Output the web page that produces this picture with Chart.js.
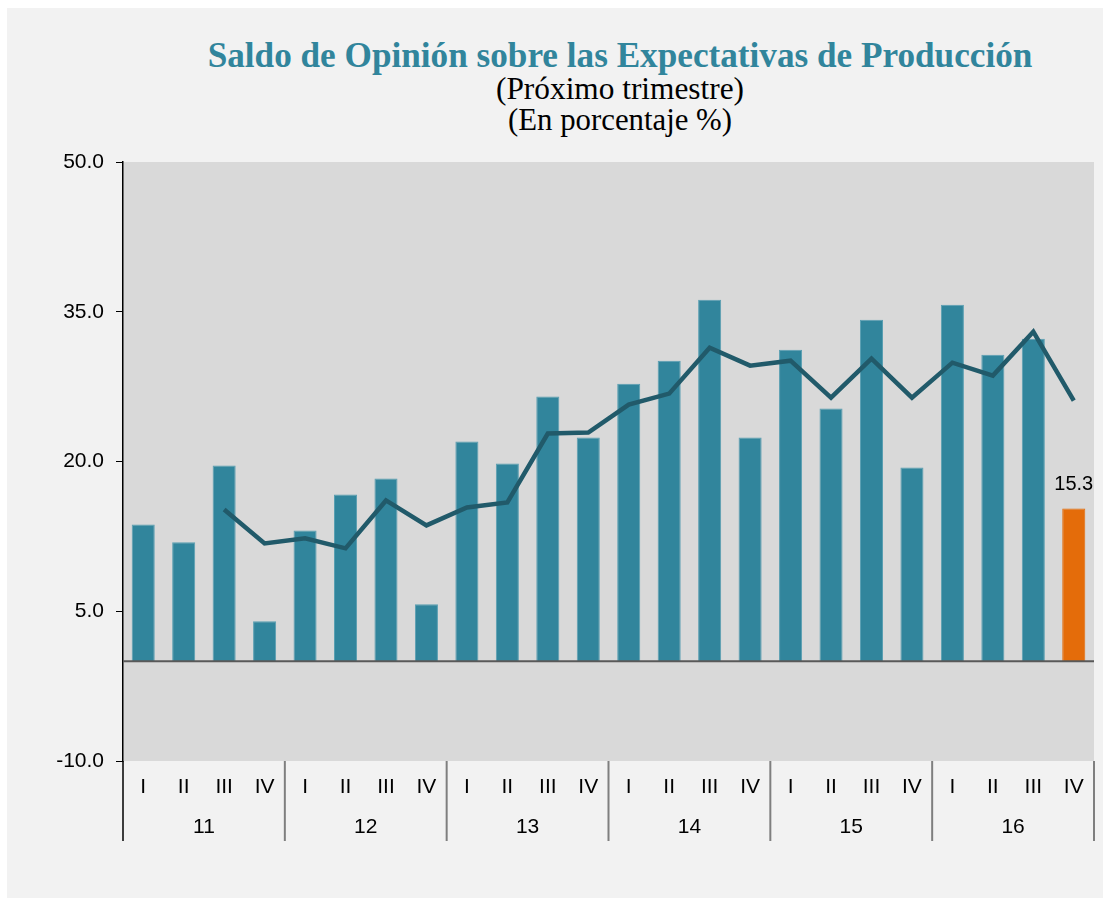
<!DOCTYPE html>
<html>
<head>
<meta charset="utf-8">
<script src="https://cdn.jsdelivr.net/npm/chart.js@4.4.0/dist/chart.umd.min.js"></script>
<style>
  body { margin: 0; background: #ffffff; }
  #wrap { position: relative; width: 1110px; height: 902px; }
  #panel { position: absolute; left: 7px; top: 8px; width: 1096px; height: 890px; background: #f2f2f2; }
  #chart { position: absolute; left: 0; top: 0; }
  .title { position: absolute; left: 0; width: 1240px; text-align: center; white-space: nowrap; font-family: "Liberation Serif", "Times New Roman", serif; }
  #t1 { top: 36px; font-size: 31px; font-weight: bold; color: #31859c; }
  #t2 { top: 71px; font-size: 26px; color: #000; }
  #t3 { top: 103px; font-size: 26px; color: #000; }
</style>
</head>
<body>
<div id="wrap">
  <div id="panel"></div>
  <div class="title" id="t1">Saldo de Opinión sobre las Expectativas de Producción</div>
  <div class="title" id="t2">(Próximo trimestre)</div>
  <div class="title" id="t3">(En porcentaje %)</div>
  <canvas id="chart" width="1110" height="902"></canvas>
</div>
<script>
// Quarters and years on the x axis
const quarters = ['I', 'II', 'III', 'IV'];
const years = ['11', '12', '13', '14', '15', '16'];
const labels = years.flatMap(() => quarters);

// Balance of opinion (bars) and moving average (line)
const saldo = [13.7, 11.9, 19.6, 4.0, 13.1, 16.7, 18.3, 5.7, 22.0, 19.8, 26.5, 22.4,
               27.8, 30.1, 36.2, 22.4, 31.2, 25.3, 34.2, 19.4, 35.7, 30.7, 32.3, 15.3];
const promedio = [null, null, 15.2, 11.8, 12.3, 11.3, 16.1, 13.6, 15.4, 15.9, 22.8, 22.9,
                  25.7, 26.8, 31.4, 29.6, 30.1, 26.4, 30.3, 26.4, 29.9, 28.6, 33.0, 26.1];

const barColors = saldo.map((v, i) => i === saldo.length - 1 ? '#e46c0a' : '#31859c');
const barBorders = saldo.map((v, i) => i === saldo.length - 1 ? '#e46c0a' : '#5a9fb2');

// Fit title lines to the widths seen in the picture
function fitWidth(id, target) {
    const el = document.getElementById(id);
    const span = document.createElement('span');
    span.textContent = el.textContent;
    el.textContent = '';
    el.appendChild(span);
    const size = parseFloat(getComputedStyle(el).fontSize);
    const w = span.getBoundingClientRect().width;
    el.style.fontSize = (size * target / w) + 'px';
}
fitWidth('t1', 825);
fitWidth('t2', 248);
fitWidth('t3', 224);

const sansFont = { family: "'Liberation Sans', Arial, sans-serif", size: 21 };

// Gray plot background
const plotBackground = {
    id: 'plotBackground',
    beforeDraw(chart) {
        const { ctx, chartArea: a } = chart;
        ctx.save();
        ctx.fillStyle = '#d9d9d9';
        ctx.fillRect(a.left, a.top, a.right - a.left, a.bottom - a.top);
        ctx.restore();
    }
};

// Zero line, year groups below the quarters, and the last value label
const extras = {
    id: 'extras',
    afterDatasetsDraw(chart) {
        const { ctx, chartArea: a, scales: { x, y } } = chart;
        ctx.save();
        const y0 = y.getPixelForValue(0);
        ctx.strokeStyle = '#595959';
        ctx.lineWidth = 2;
        ctx.beginPath();
        ctx.moveTo(a.left, y0);
        ctx.lineTo(a.right, y0);
        ctx.stroke();

        const meta = chart.getDatasetMeta(1);
        const last = meta.data[saldo.length - 1];
        ctx.fillStyle = '#000';
        ctx.font = "20px 'Liberation Sans', Arial, sans-serif";
        ctx.textAlign = 'center';
        ctx.textBaseline = 'middle';
        ctx.fillText(saldo[saldo.length - 1].toFixed(1), last.x, last.y - 24);
        ctx.restore();
    },
    afterDraw(chart) {
        const { ctx, chartArea: a, scales: { x } } = chart;
        const half = (x.getPixelForValue(1) - x.getPixelForValue(0)) / 2;
        const bottom = a.bottom + 80;
        ctx.save();
        ctx.strokeStyle = '#000';
        ctx.lineWidth = 1.5;
        ctx.beginPath();
        ctx.moveTo(a.left, a.bottom);
        ctx.lineTo(a.left, bottom);
        ctx.stroke();

        ctx.font = "21px 'Liberation Sans', Arial, sans-serif";
        ctx.fillStyle = '#000';
        ctx.textAlign = 'center';
        ctx.textBaseline = 'middle';
        ctx.strokeStyle = '#7f7f7f';
        ctx.lineWidth = 2;
        years.forEach((yr, k) => {
            const xl = x.getPixelForValue(k * 4) - half;
            const xr = x.getPixelForValue(k * 4 + 3) + half;
            if (k > 0) {
                ctx.beginPath();
                ctx.moveTo(xl, a.bottom);
                ctx.lineTo(xl, bottom);
                ctx.stroke();
            }
            if (k === years.length - 1) {
                ctx.beginPath();
                ctx.moveTo(xr, a.bottom);
                ctx.lineTo(xr, bottom);
                ctx.stroke();
            }
            ctx.fillText(yr, (xl + xr) / 2, a.bottom + 66);
        });
        ctx.restore();
    }
};

new Chart(document.getElementById('chart').getContext('2d'), {
    type: 'bar',
    data: {
        labels: labels,
        datasets: [{
            type: 'line',
            data: promedio,
            borderColor: '#215a6a',
            borderWidth: 4.5,
            pointRadius: 0,
            tension: 0,
            fill: false,
            order: 0
        }, {
            type: 'bar',
            data: saldo,
            backgroundColor: barColors,
            borderColor: barBorders,
            borderWidth: 1,
            barPercentage: 0.57,
            categoryPercentage: 1,
            order: 1
        }]
    },
    options: {
        responsive: false,
        animation: false,
        devicePixelRatio: 1,
        layout: { padding: { left: 0, top: 162, right: 16, bottom: 91 } },
        plugins: {
            legend: { display: false },
            tooltip: { enabled: false }
        },
        scales: {
            x: {
                grid: { display: false, drawTicks: false },
                border: { display: false },
                ticks: { color: '#000', font: sansFont, padding: 14, maxRotation: 0, autoSkip: false },
                afterFit: scale => { scale.height = 50; }
            },
            y: {
                min: -10,
                max: 50,
                ticks: {
                    stepSize: 15,
                    color: '#000',
                    font: sansFont,
                    padding: 12,
                    callback: v => v.toFixed(1)
                },
                grid: { drawOnChartArea: false, tickLength: 7, tickColor: '#000', color: '#000' },
                border: { display: true, color: '#000', width: 1.5 },
                afterFit: scale => { scale.width = 123; }
            }
        }
    },
    plugins: [plotBackground, extras]
});
</script>
</body>
</html>
